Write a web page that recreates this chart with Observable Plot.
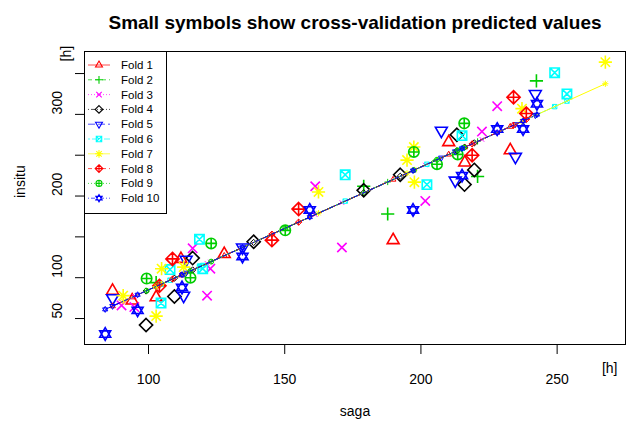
<!DOCTYPE html>
<html><head><meta charset="utf-8">
<script src="https://cdn.jsdelivr.net/npm/d3@7"></script>
<script src="https://cdn.jsdelivr.net/npm/@observablehq/plot@0.6"></script>
<style>body{margin:0;background:#fff} svg{display:block}</style>
</head><body><div id="chart"></div>
<script>
const foldLabels = ["Fold 1","Fold 2","Fold 3","Fold 4","Fold 5","Fold 6","Fold 7","Fold 8","Fold 9","Fold 10"];
const sagaByFold = [
  [86.8, 94, 102.8, 111.9, 127.8, 189.8, 210.2, 216.1, 232.8],
  [102.8, 179, 187.8, 220.8, 242.4],
  [90.1, 94.8, 116.2, 121.5, 122.7, 161.2, 171, 201.6, 222.4, 228],
  [99.1, 109.5, 116.2, 138.6, 179, 192.4, 213.2, 216, 219.6],
  [86.8, 112.9, 113.8, 134.5, 207.5, 212.6, 234.7, 242],
  [104.6, 107.9, 118.7, 119.9, 172.2, 202.2, 215.1, 249.1, 253.6],
  [90.7, 102.8, 104.8, 112.9, 162.4, 194.9, 197.4, 197.6, 237.1, 267.7],
  [104, 108.8, 145.3, 155.1, 218.8, 234, 238.7],
  [99.3, 115.4, 123, 150.2, 197.4, 205.9, 213.5, 215.9],
  [84.1, 96, 112.3, 134.5, 159.2, 197.1, 215.1, 228, 237.5, 242.6]
];
const insituByFold = [
  [84, 72, 76, 123, 129, 146, 266, 241, 256],
  [94, 212, 178, 224, 341],
  [66, 64, 136, 78, 111, 212, 137, 194, 279, 310],
  [42, 77, 124, 144, 207, 226, 275, 214, 232],
  [75, 78, 122, 137, 280, 219, 248, 325],
  [69, 110, 147, 111, 226, 214, 274, 351, 325],
  [78, 53, 111, 113, 205, 244, 260, 217, 307, 364],
  [90, 123, 146, 184, 250, 321, 301],
  [99, 100, 142, 158, 254, 239, 251, 289],
  [31, 60, 88, 126, 183, 183, 225, 282, 282, 313]
];
const predictedByFold = [
  [65.2, 76.1, 89.3, 103.0, 126.9, 220.2, 251.0, 259.8, 285.0],
  [89.3, 204.0, 217.2, 266.9, 299.4],
  [70.2, 77.3, 109.5, 117.5, 119.3, 177.2, 192.0, 238.0, 269.3, 277.7],
  [83.7, 99.4, 109.5, 143.2, 204.0, 224.2, 255.5, 259.7, 265.1],
  [65.2, 104.5, 105.9, 137.0, 246.9, 254.6, 287.8, 298.8],
  [92.0, 97.0, 113.2, 115.0, 193.8, 238.9, 258.3, 309.5, 316.3],
  [71.1, 89.3, 92.3, 104.5, 179.0, 227.9, 231.7, 232.0, 291.4, 337.5],
  [91.1, 98.3, 153.3, 168.0, 263.9, 286.8, 293.8],
  [84.0, 108.3, 119.7, 160.7, 231.7, 244.5, 255.9, 259.5],
  [61.2, 79.1, 103.6, 137.0, 174.2, 231.2, 258.3, 277.7, 292.0, 299.7]
];
const xTickValues = [100, 150, 200, 250];
const yTickValues = [50, 100, 150, 200, 250, 300, 350];
const yTickLabels = [50, 100, 200, 300];

const foldColors = ["#FF0000","#00CD00","#FF00FF","#000000","#0000FF","#00FFFF","#FFFF00","#FF0000","#00CD00","#0000FF"];
const foldDashes = [null,"4,3","1,2","1,2,4,2","7,3","2,2,6,2",null,"4,3","1,2","1,2,4,2"];

function sym(fn){ return {draw(c, size){ fn(c, Math.sqrt(size/Math.PI)); }}; }
function poly(c, pts){ c.moveTo(pts[0][0], pts[0][1]); for (let i=1;i<pts.length;i++) c.lineTo(pts[i][0], pts[i][1]); c.closePath(); }
function plusP(c,a){ c.moveTo(-a,0); c.lineTo(a,0); c.moveTo(0,-a); c.lineTo(0,a); }
function timesP(c,a){ c.moveTo(-a,-a); c.lineTo(a,a); c.moveTo(-a,a); c.lineTo(a,-a); }
const up = k => [[0,-k],[0.866*k,0.5*k],[-0.866*k,0.5*k]];
const down = k => [[0,k],[0.866*k,-0.5*k],[-0.866*k,-0.5*k]];
const symbols = [
  sym((c,r)=>poly(c, up(1.25*r))),
  sym((c,r)=>plusP(c, 1.2*r)),
  sym((c,r)=>timesP(c, 0.85*r)),
  sym((c,r)=>{const a=1.2*r; poly(c,[[0,-a],[a,0],[0,a],[-a,0]]);}),
  sym((c,r)=>poly(c, down(1.25*r))),
  sym((c,r)=>{const a=0.85*r; poly(c,[[-a,-a],[a,-a],[a,a],[-a,a]]); timesP(c,a);}),
  sym((c,r)=>{plusP(c,1.2*r); timesP(c,0.85*r);}),
  sym((c,r)=>{const a=1.2*r; poly(c,[[0,-a],[a,0],[0,a],[-a,0]]); plusP(c,a);}),
  sym((c,r)=>{const a=0.95*r; c.moveTo(a,0); c.arc(0,0,a,0,2*Math.PI); plusP(c,a);}),
  sym((c,r)=>{poly(c, up(1.15*r)); poly(c, down(1.15*r));})
];

const rows = [];
foldLabels.forEach((f,i)=>sagaByFold[i].forEach((s,j)=>rows.push({fold:i, saga:s, insitu:insituByFold[i][j], pred:predictedByFold[i][j]})));

const marks = [];
foldLabels.forEach((f,i)=>{
  marks.push(Plot.dot(rows.filter(d=>d.fold===i), {x:"saga", y:"insitu", symbol: symbols[i], r:5.5, stroke: foldColors[i], strokeWidth:1.6, fill:"none"}));
});
foldLabels.forEach((f,i)=>{
  const fr = rows.filter(d=>d.fold===i).sort((a,b)=>a.saga-b.saga);
  const lo = {x:"saga", y:"pred", stroke: foldColors[i], strokeWidth:1};
  if (foldDashes[i]) lo.strokeDasharray = foldDashes[i];
  marks.push(Plot.line(fr, lo));
  marks.push(Plot.dot(fr, {x:"saga", y:"pred", symbol: symbols[i], r:2.6, stroke: foldColors[i], strokeWidth:1, fill:"none"}));
});
marks.push(Plot.frame({stroke:"black", strokeWidth:1}));

function legendMark(){
  const g = d3.create("svg:g");
  g.append("rect").attr("x",84.5).attr("y",51.5).attr("width",82).attr("height",162).attr("fill","white").attr("stroke","black");
  foldLabels.forEach((lab,i)=>{
    const cy = 65 + i*14.8;
    const ln = g.append("line").attr("x1",88).attr("x2",110).attr("y1",cy).attr("y2",cy).attr("stroke",foldColors[i]).attr("stroke-width",1).attr("stroke-opacity",0.7);
    if (foldDashes[i]) ln.attr("stroke-dasharray", foldDashes[i]);
    g.append("path").attr("transform",`translate(99,${cy})`).attr("d", d3.symbol(symbols[i], Math.PI*3.2*3.2)()).attr("fill","none").attr("stroke",foldColors[i]).attr("stroke-width",1.1);
    g.append("text").attr("x",121).attr("y",cy).attr("dy","0.35em").attr("text-anchor","start").attr("font-size",11.5).attr("fill","black").text(lab);
  });
  return g.node();
}
marks.push(legendMark);

marks.push(Plot.text(xTickValues, {x:d=>d, text:d=>String(d), frameAnchor:"bottom", dy:39, fontSize:14}));
marks.push(Plot.text(yTickLabels, {y:d=>d, text:d=>String(d), frameAnchor:"left", dx:-27, rotate:-90, fontSize:14}));
marks.push(Plot.text(["[h]"], {text:d=>d, frameAnchor:"bottom-right", dx:-8, dy:28, fontSize:14}));
marks.push(Plot.text(["[h]"], {text:d=>d, frameAnchor:"top-left", dx:-23, dy:10, rotate:-90, fontSize:14}));
marks.push(Plot.text(["insitu"], {text:d=>d, frameAnchor:"left", dx:-64, rotate:-90, fontSize:14}));
marks.push(Plot.text(["saga"], {text:d=>d, frameAnchor:"bottom", dy:71, fontSize:14}));
marks.push(Plot.text(["Small symbols show cross-validation predicted values"], {text:d=>d, frameAnchor:"top", dy:-36, fontSize:19, fontWeight:"bold"}));

const chart = Plot.plot({
  width: 628, height: 421,
  marginLeft: 84, marginRight: 3, marginTop: 51, marginBottom: 77,
  style: {fontFamily: "'Liberation Sans', Arial, sans-serif", background: "white", color: "black", overflow: "visible"},
  x: {domain: [76.5, 275.1], ticks: xTickValues, tickSize: 10, tickFormat: () => "", label: null},
  y: {domain: [18.2, 377], ticks: yTickValues, tickSize: 9, tickFormat: () => "", label: null},
  marks
});
document.getElementById("chart").appendChild(chart);
</script>
</body></html>
